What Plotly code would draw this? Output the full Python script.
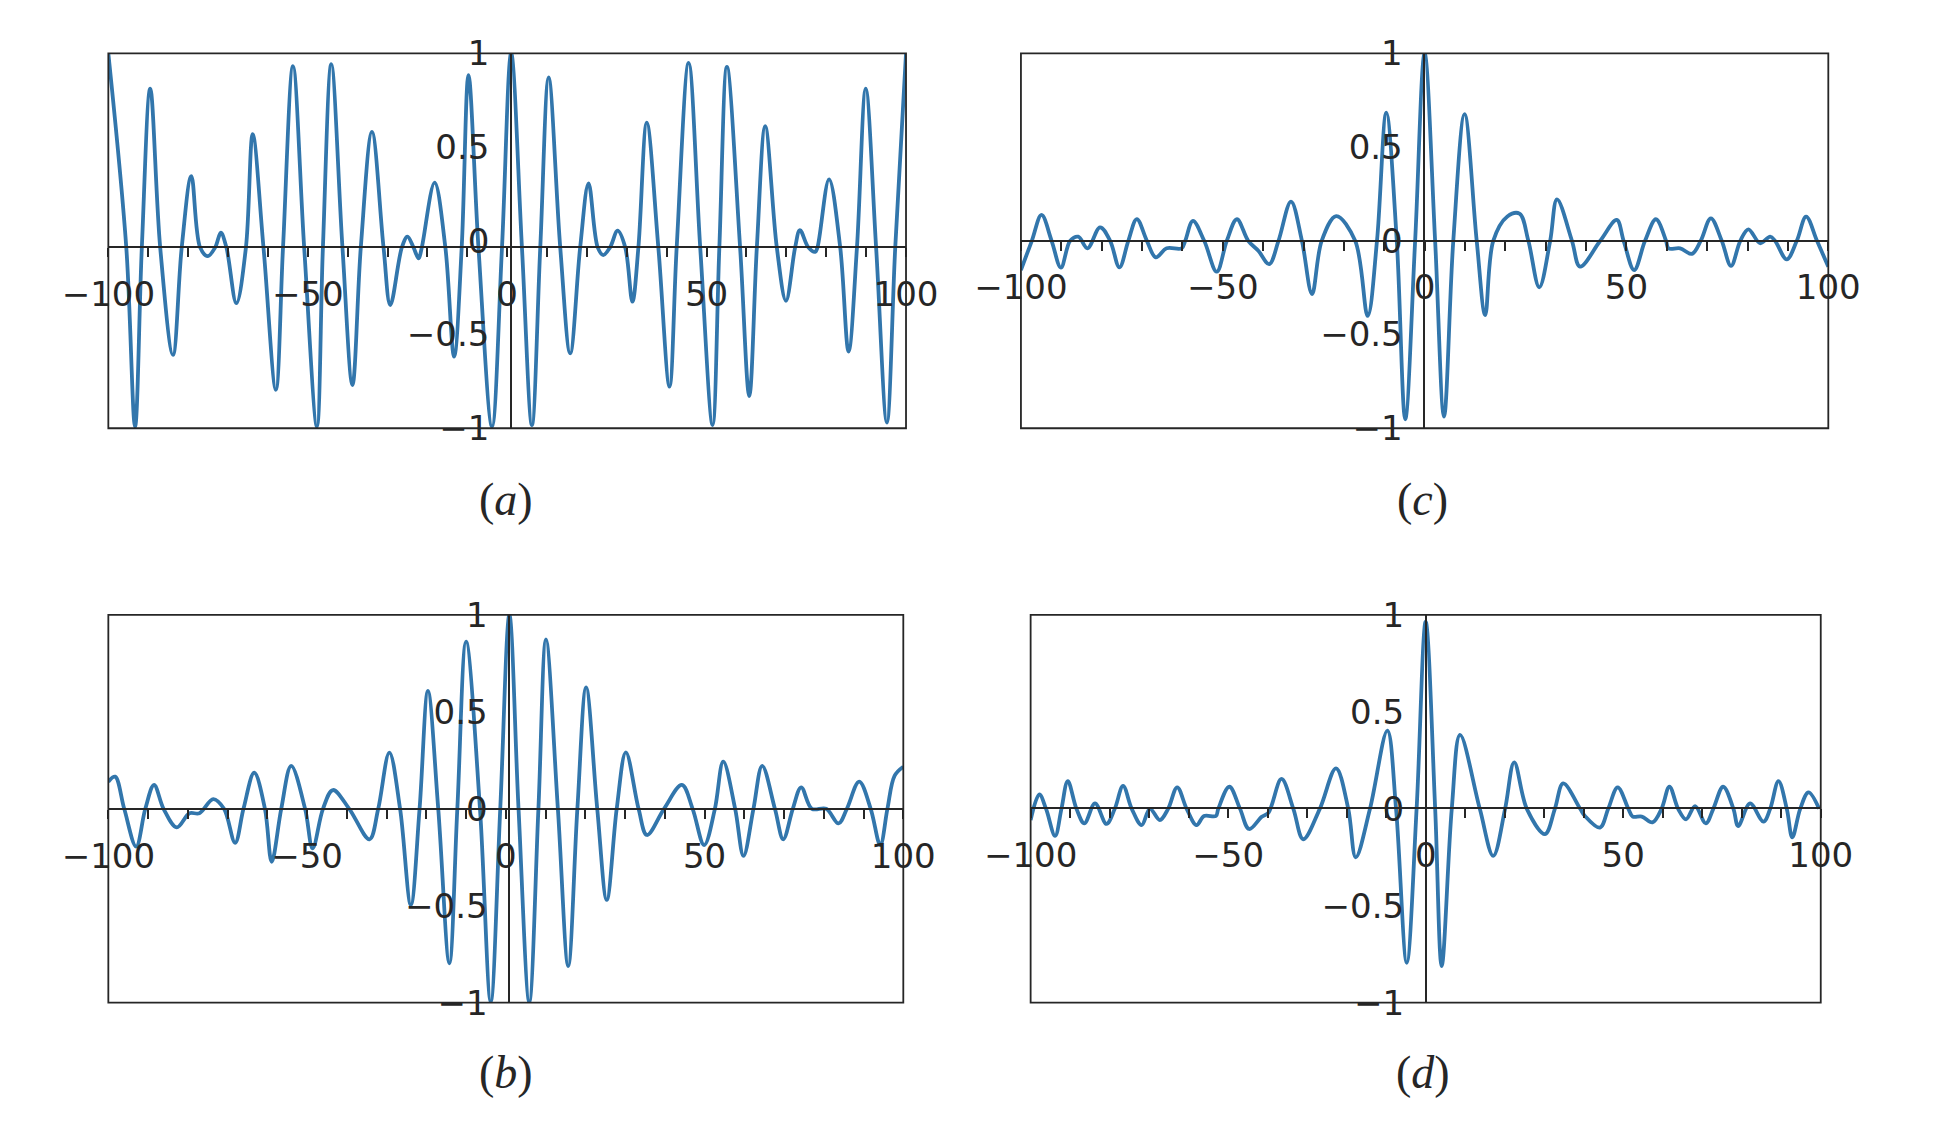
import plotly.graph_objects as go

# ---------------- data ----------------
# panel (a)
a_x = [-100, -95.5, -93.3, -91.6, -89.5, -87.0, -83.8, -81.6, -79.2, -77.0, -75.1, -73.2, -71.8, -70.4,
       -67.9, -65.5, -63.8, -61.1, -58.0, -56.2, -53.7, -50.9, -47.7, -46.2, -44.1, -41.3, -38.8, -36.7,
       -33.9, -31.0, -29.3, -26.4, -25.0, -23.5, -22.2, -21.4, -18.2, -15.5, -13.3, -11.4, -9.7, -7.2,
       -3.8, -1.3, 1.0, 3.7, 6.2, 8.3, 10.4, 13.3, 15.8, 18.3, 20.4, 22.7, 24.1, 25.8, 27.7, 29.6, 31.4,
       32.9, 35.0, 37.9, 40.7, 42.5, 45.5, 48.4, 51.5, 53.2, 55.1, 58.4, 60.7, 62.6, 64.7, 67.6, 69.9,
       72.2, 73.4, 75.5, 77.2, 77.8, 80.7, 83.5, 85.6, 87.7, 89.9, 92.5, 95.2, 97.3, 100]
a_y = [1.0, -0.035, -0.991, -0.035, 0.812, -0.035, -0.609, -0.035, 0.345, -0.035, -0.082, -0.035, 0.043, -0.035,
       -0.333, -0.035, 0.569, -0.035, -0.795, -0.035, 0.932, -0.035, -0.991, -0.035, 0.942, -0.035, -0.770, -0.035,
       0.581, -0.035, -0.343, -0.035, 0.022, -0.035, -0.094, -0.035, 0.310, -0.035, -0.618, -0.035, 0.884, -0.035,
       -0.991, -0.035, 1.0, -0.035, -0.983, -0.035, 0.871, -0.035, -0.601, -0.035, 0.306, -0.035, -0.076, -0.035,
       0.054, -0.035, -0.325, -0.035, 0.630, -0.035, -0.778, -0.035, 0.949, -0.035, -0.983, -0.035, 0.928, -0.035,
       -0.828, -0.035, 0.611, -0.035, -0.320, -0.035, 0.057, -0.035, -0.059, -0.035, 0.328, -0.035, -0.591, -0.035,
       0.812, -0.035, -0.970, -0.035, 1.0]

# panel (b)
b_x = [-100.0, -98.3, -96.0, -93.0, -90.7, -88.5, -86.1, -82.8, -79.6, -77.1, -73.6, -70.9, -68.1, -66.0,
       -63.3, -60.6, -58.9, -56.5, -54.0, -50.5, -48.6, -46.0, -43.5, -39.4, -34.3, -32.1, -29.3, -26.6,
       -23.9, -21.7, -19.6, -17.0, -14.2, -12.2, -10.0, -6.5, -3.8, -1.4, 0.9, 3.2, 5.9, 8.2, 10.1, 13.1,
       15.7, 18.0, 20.2, 23.0, 25.4, 27.9, 30.2, 33.4, 35.5, 39.8, 44.3, 47.0, 49.9, 52.6, 54.7, 57.7,
       59.8, 62.3, 64.5, 67.7, 69.8, 72.2, 74.3, 77.0, 80.6, 83.7, 85.8, 88.9, 91.8, 94.2, 96.0, 97.8, 100.0]
b_y = [0.14, 0.166, 0, -0.195, 0, 0.123, 0, -0.096, -0.023, -0.023, 0.05, 0, -0.175, 0,
       0.186, 0, -0.273, 0, 0.222, 0, -0.204, 0, 0.097, 0, -0.157, 0, 0.29, 0,
       -0.496, 0, 0.608, 0, -0.797, 0, 0.862, 0, -0.995, 0, 1.0, 0, -0.995, 0, 0.874, 0,
       -0.811, 0, 0.627, 0, -0.47, 0, 0.291, 0, -0.135, 0, 0.123, 0, -0.187, 0, 0.243, 0,
       -0.243, 0, 0.222, 0, -0.157, 0, 0.111, 0, 0, -0.075, 0, 0.14, 0, -0.187, 0, 0.17, 0.217]

# panel (c)
c_x = [-100, -97.3, -94.9, -92.4, -90.1, -87.8, -85.8, -83.5, -80.4, -77.9, -75.6, -73.4, -71.3, -68.8,
       -66.6, -63.9, -60.2, -59.3, -57.4, -54.6, -51.5, -49.0, -46.5, -43.7, -41.2, -38.5, -36.2, -33.1,
       -30.4, -27.9, -25.5, -21.9, -17.2, -14.1, -11.8, -9.5, -6.9, -4.8, -2.35, 0, 2.6, 4.8, 7.1, 9.9,
       12.9, 15.0, 17.0, 20.5, 23.5, 25.7, 28.4, 31.1, 32.8, 36.5, 38.5, 43.5, 47.6, 49.3, 51.9, 54.6,
       57.3, 59.8, 60.4, 63.3, 66.2, 68.4, 70.9, 73.6, 75.9, 78.2, 80.2, 83.1, 85.6, 86.8, 89.7, 92.2,
       94.5, 97.2, 100]
c_y = [-0.156, 0, 0.138, 0, -0.143, 0, 0.022, -0.04, 0.072, 0, -0.142, 0, 0.116, 0,
       -0.088, -0.04, -0.04, 0, 0.106, 0, -0.165, 0, 0.115, 0, -0.053, -0.124, 0, 0.209,
       0, -0.284, 0, 0.132, 0, -0.401, 0, 0.683, 0, -0.952, 0, 1.0, 0, -0.938, 0, 0.676,
       0, -0.396, 0, 0.13, 0.145, 0, -0.248, 0, 0.221, 0, -0.138, 0, 0.111, 0, -0.156, 0,
       0.115, 0, -0.04, -0.04, -0.07, 0, 0.12, 0, -0.134, 0, 0.061, -0.013, 0.022, 0, -0.099, 0,
       0.129, 0, -0.138]

# panel (d)
d_x = [-100, -97.8, -96.1, -93.8, -92.2, -90.6, -88.4, -86.4, -83.7, -80.8, -78.7, -76.6, -74.4, -71.9,
       -69.8, -67.3, -65.2, -62.9, -60.5, -58.0, -56.1, -53.1, -52.5, -49.7, -47.0, -44.7, -41.5, -39.8,
       -36.5, -33.5, -31.0, -26.8, -22.7, -19.6, -17.7, -14.1, -9.7, -7.5, -4.8, -2.3, 0, 2.4, 4.05, 6.6,
       8.7, 13.7, 17.1, 20.1, 22.4, 25.6, 30.2, 32.7, 34.8, 39.1, 40.3, 44.1, 46.2, 48.6, 51.3, 52.4,
       54.7, 57.4, 59.7, 61.7, 63.9, 65.9, 68.2, 70.9, 72.8, 75.3, 77.9, 79.1, 82.1, 85.5, 87.2, 89.3,
       91.4, 92.8, 94.8, 96.9, 99.6]
d_y = [-0.058, 0.075, 0, -0.14, 0, 0.143, 0, -0.075, 0.028, -0.078, 0, 0.118, 0, -0.084,
       0.0, -0.058, 0, 0.111, 0, -0.084, -0.037, -0.037, 0, 0.114, 0, -0.104, -0.041, -0.02,
       0.154, 0, -0.157, 0, 0.209, 0, -0.25, 0, 0.403, 0, -0.794, 0, 0.965, 0, -0.811, 0,
       0.381, 0, -0.243, 0, 0.24, 0, -0.13, 0, 0.131, 0, -0.037, -0.097, 0, 0.111, 0, -0.04,
       -0.04, -0.07, 0, 0.114, 0, -0.054, 0.014, -0.075, 0, 0.114, 0, -0.089, 0.028, -0.066, 0, 0.143,
       0, -0.147, 0, 0.085, 0]

x_tick_vals = [-100, -50, 0, 50, 100]
x_tick_text = ["\u2212100", "\u221250", "0", "50", "100"]
y_tick_vals = [-1, -0.5, 0, 0.5, 1]
y_tick_text = ["\u22121", "\u22120.5", "0", "0.5", "1"]
captions = ["(<i>a</i>)", "(<i>b</i>)", "(<i>c</i>)", "(<i>d</i>)"]

# ---------------- layout geometry ----------------
W, H = 1938, 1142
LINE = "#3276ac"
INK = "#262626"

panels = [
    # name, x, y, x-domain, y-domain, x-axis line position (paper y), y-axis line position (paper x)
    ("a", a_x, a_y, [0.0559, 0.4675], [0.6250, 0.9533], 0.7835, 0.2637),
    ("b", b_x, b_y, [0.0559, 0.4661], [0.1220, 0.4615], 0.2916, 0.2628),
    ("c", c_x, c_y, [0.5268, 0.9434], [0.6250, 0.9533], 0.7892, 0.7350),
    ("d", d_x, d_y, [0.5318, 0.9395], [0.1220, 0.4615], 0.2922, 0.7357),
]
caption_pos = [(0.2609, 0.5622), (0.2609, 0.0606), (0.7341, 0.5622), (0.7341, 0.0606)]

fig = go.Figure()
shapes = []
annotations = []
font = dict(family="DejaVu Sans", size=34, color=INK)

for i, (name, xs, ys, xd, yd, xpos, ypos) in enumerate(panels):
    k = "" if i == 0 else str(i + 1)
    fig.add_trace(go.Scatter(x=xs, y=ys, mode="lines", xaxis="x" + k, yaxis="y" + k,
                             line=dict(color=LINE, width=3.8, shape="spline", smoothing=1.0),
                             showlegend=False, hoverinfo="skip"))
    fig.layout["xaxis" + k] = dict(
        domain=xd, range=[-100, 100], anchor="free", position=xpos, automargin=False,
        showline=True, linecolor=INK, linewidth=1.8, showgrid=False, zeroline=False,
        tickmode="array", tickvals=x_tick_vals, ticktext=x_tick_text,
        ticks="outside", ticklen=9, tickwidth=1.5, tickcolor=INK,
        minor=dict(dtick=10, tick0=0, ticks="outside", ticklen=9, tickwidth=1.5, tickcolor=INK, showgrid=False),
        tickfont=font, ticklabelstandoff=8,
    )
    fig.layout["yaxis" + k] = dict(
        domain=yd, range=[-1, 1], anchor="free", position=ypos, automargin=False,
        showline=True, linecolor=INK, linewidth=1.8, showgrid=False, zeroline=False,
        tickmode="array", tickvals=y_tick_vals, ticktext=y_tick_text,
        ticks="", tickfont=font, ticklabelstandoff=14,
    )
    shapes.append(dict(type="rect", xref="x" + k + " domain", yref="y" + k + " domain",
                       x0=0, x1=1, y0=0, y1=1, line=dict(color=INK, width=1.8), layer="above"))

for (cx, cy), txt in zip(caption_pos, captions):
    annotations.append(dict(x=cx, y=cy, xref="paper", yref="paper", text=txt, showarrow=False,
                            xanchor="center", yanchor="middle",
                            font=dict(family="Liberation Serif", size=46, color=INK)))

fig.update_layout(width=W, height=H, autosize=False, margin=dict(l=0, r=0, t=0, b=0, autoexpand=False),
                  paper_bgcolor="white", plot_bgcolor="white",
                  shapes=shapes, annotations=annotations)

fig.write_html("out.html", config={"displayModeBar": False},
               post_script="document.body.style.margin='0px';")
